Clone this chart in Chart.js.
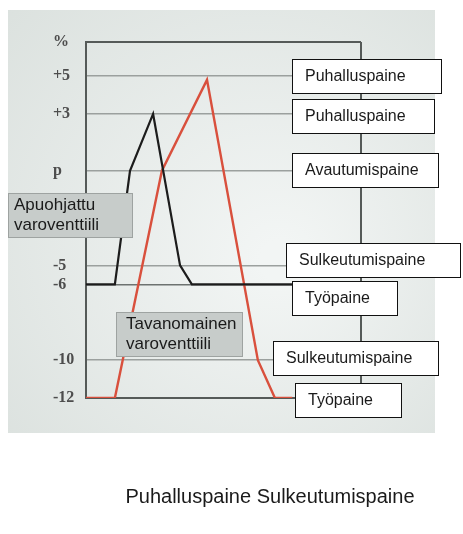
<!DOCTYPE html>
<html>
<head>
<meta charset="utf-8">
<script src="https://cdn.jsdelivr.net/npm/chart.js@4.4.1/dist/chart.umd.min.js"></script>
<style>
  html, body { margin: 0; padding: 0; background: #ffffff; }
  #wrap { position: relative; width: 463px; height: 534px; }
  canvas { display: block; }
</style>
</head>
<body>
<div id="wrap"><canvas id="c" width="463" height="534"></canvas></div>
<script>
// ---- data ----
const yTickValues = [-12, -10, -6, -5, 0, 3, 5, 6.8];
const yTickLabels = ['-12', '-10', '-6', '-5', 'p', '+3', '+5', '%'];

// pilot-operated valve (black)
const pilotX = [0, 10.5, 16, 24.4, 34.2, 38.5, 75];
const pilotY = [-6, -6, 0, 3, -5, -6, -6];

// conventional valve (red)
const convX = [0, 10.5, 27.6, 44, 62.5, 68.7, 75];
const convY = [-12, -12, 0, 4.8, -10, -12, -12];

const rightLabels = ['Puhalluspaine', 'Puhalluspaine', 'Avautumispaine', 'Sulkeutumispaine', 'Työpaine', 'Sulkeutumispaine', 'Työpaine'];
const greyLabels = [['Apuohjattu', 'varoventtiili'], ['Tavanomainen', 'varoventtiili']];
const caption = 'Puhalluspaine Sulkeutumispaine';

// ---- layout (label boxes) ----
const rightBoxes = [
  {x: 292, y: 59, w: 149, h: 34},
  {x: 292, y: 99, w: 142, h: 34},
  {x: 292, y: 153, w: 146, h: 34},
  {x: 286, y: 243, w: 174, h: 34},
  {x: 292, y: 281, w: 105, h: 34},
  {x: 273, y: 341, w: 165, h: 34},
  {x: 295, y: 383, w: 106, h: 34}
];
const greyBoxes = [
  {x: 8, y: 193, w: 124, h: 44},
  {x: 116, y: 312, w: 126, h: 44}
];

function pts(xs, ys) { return xs.map((x, i) => ({x: x, y: ys[i]})); }

const bgPlugin = {
  id: 'bg',
  beforeDraw(chart) {
    const ctx = chart.ctx;
    ctx.save();
    ctx.fillStyle = '#ffffff';
    ctx.fillRect(0, 0, chart.width, chart.height);
    const g = ctx.createRadialGradient(280, 260, 20, 240, 230, 330);
    g.addColorStop(0, '#f2f5f4');
    g.addColorStop(1, '#dbe1de');
    ctx.fillStyle = g;
    ctx.fillRect(8, 10, 427, 423);
    ctx.restore();
  }
};

const boxPlugin = {
  id: 'boxes',
  afterDraw(chart) {
    const ctx = chart.ctx;
    ctx.save();
    ctx.font = '16px "Liberation Sans", Arial, sans-serif';
    ctx.textBaseline = 'middle';
    ctx.textAlign = 'left';
    rightBoxes.forEach((b, i) => {
      ctx.fillStyle = '#ffffff';
      ctx.fillRect(b.x, b.y, b.w, b.h);
      ctx.strokeStyle = '#111111';
      ctx.lineWidth = 1;
      ctx.strokeRect(b.x + 0.5, b.y + 0.5, b.w, b.h);
      ctx.fillStyle = '#1a1a1a';
      ctx.fillText(rightLabels[i], b.x + 13, b.y + b.h / 2 + 1);
    });
    ctx.font = '17px "Liberation Sans", Arial, sans-serif';
    greyBoxes.forEach((b, i) => {
      ctx.fillStyle = '#c7ccca';
      ctx.fillRect(b.x, b.y, b.w, b.h);
      ctx.strokeStyle = '#9ea3a1';
      ctx.lineWidth = 1;
      ctx.strokeRect(b.x + 0.5, b.y + 0.5, b.w, b.h);
      ctx.fillStyle = '#1a1a1a';
      const tx = b.x + (i === 1 ? 10 : 6);
      ctx.fillText(greyLabels[i][0], tx, b.y + 12);
      ctx.fillText(greyLabels[i][1], tx, b.y + 32);
    });
    ctx.font = '20px "Liberation Sans", Arial, sans-serif';
    ctx.textAlign = 'center';
    ctx.fillStyle = '#1a1a1a';
    ctx.fillText(caption, 270, 497);
    ctx.restore();
  }
};

new Chart(document.getElementById('c'), {
  type: 'line',
  data: {
    datasets: [
      {
        label: 'Apuohjattu varoventtiili',
        data: pts(pilotX, pilotY),
        borderColor: '#1c1c1c',
        borderWidth: 2.2,
        pointRadius: 0,
        tension: 0,
        fill: false
      },
      {
        label: 'Tavanomainen varoventtiili',
        data: pts(convX, convY),
        borderColor: '#d9503d',
        borderWidth: 2.4,
        pointRadius: 0,
        tension: 0,
        fill: false
      }
    ]
  },
  options: {
    responsive: false,
    animation: false,
    events: [],
    layout: { padding: { left: 53, right: 102, top: 42, bottom: 136 } },
    plugins: { legend: { display: false }, tooltip: { enabled: false } },
    scales: {
      x: {
        type: 'linear',
        min: 0,
        max: 100,
        afterBuildTicks(scale) { scale.ticks = [{value: 0}, {value: 100}]; },
        afterFit(scale) { scale.height = 0; },
        ticks: { display: false },
        border: { display: false },
        grid: { color: '#555a58', lineWidth: 2, drawTicks: false }
      },
      y: {
        type: 'linear',
        min: -12,
        max: 6.8,
        afterBuildTicks(scale) { scale.ticks = yTickValues.map(v => ({value: v})); },
        afterFit(scale) { scale.width = 33; },
        border: { display: true, color: '#555a58', width: 2 },
        grid: {
          drawTicks: false,
          color(ctx) {
            const v = ctx.tick && ctx.tick.value;
            if (v === 6.8 || v === -12) return '#555a58';
            if (v === -6) return '#6d7270';
            return '#9ba09e';
          },
          lineWidth(ctx) {
            const v = ctx.tick && ctx.tick.value;
            if (v === 6.8 || v === -12) return 2;
            return 1.4;
          }
        },
        ticks: {
          crossAlign: 'far',
          padding: 10,
          color: '#4d4d4d',
          font: { family: '"Liberation Serif", "DejaVu Serif", serif', size: 16, weight: 'bold' },
          callback(value) {
            const i = yTickValues.indexOf(value);
            return i >= 0 ? yTickLabels[i] : '';
          }
        }
      }
    }
  },
  plugins: [bgPlugin, boxPlugin]
});
</script>
</body>
</html>
